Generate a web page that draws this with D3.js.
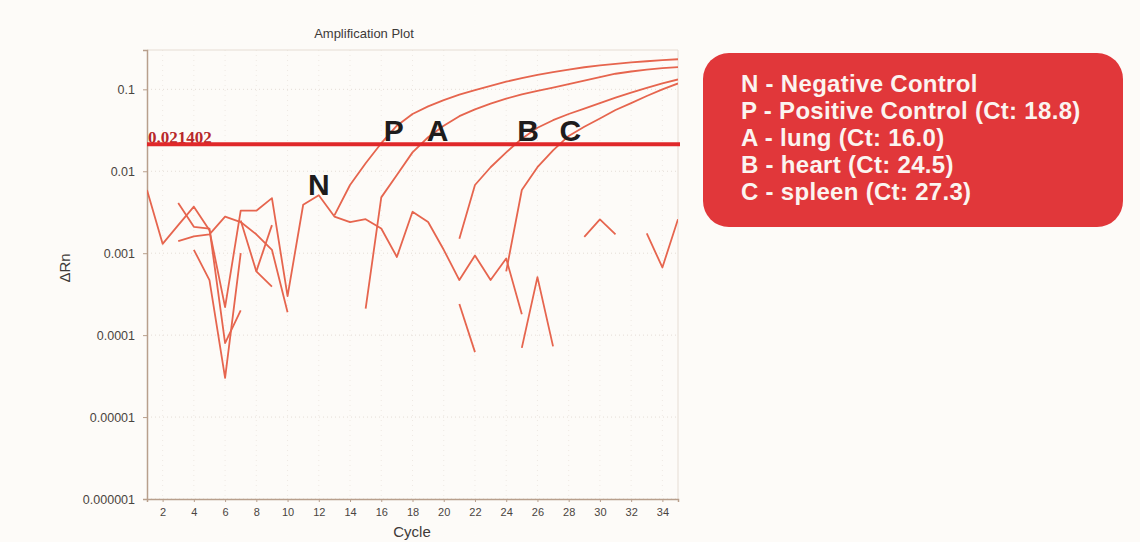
<!DOCTYPE html>
<html><head><meta charset="utf-8">
<script src="https://cdn.jsdelivr.net/npm/d3@7"></script>
<style>
html,body{margin:0;padding:0;background:#fdfbf8;}
svg{display:block;}
</style></head>
<body>
<svg id="chart" width="1140" height="542"></svg>
<script>
// ---------- data ----------
const cycles = [1,2,3,4,5,6,7,8,9,10,11,12,13,14,15,16,17,18,19,20,21,22,23,24,25,26,27,28,29,30,31,32,33,34,35];
const xTicks = [2,4,6,8,10,12,14,16,18,20,22,24,26,28,30,32,34];
const yTicks = [0.1,0.01,0.001,0.0001,0.00001,0.000001];
const yTickLabels = ["0.1","0.01","0.001","0.0001","0.00001","0.000001"];
const threshold = 0.021402;
const thresholdLabel = "0.021402";

const curveP = [null,null,null,null,null,null,null,null,null,null,null,null,0.0029,0.0068,0.0125,0.022,0.036,0.050,0.062,0.074,0.086,0.098,0.110,0.124,0.137,0.150,0.162,0.174,0.186,0.196,0.205,0.213,0.220,0.227,0.233];
const curveA = [null,null,null,null,null,null,null,null,null,null,null,null,null,null,0.00021,0.0048,0.0090,0.017,0.026,0.036,0.047,0.057,0.067,0.077,0.087,0.096,0.105,0.116,0.128,0.141,0.155,0.165,0.174,0.181,0.187];
const curveB = [null,null,null,null,null,null,null,null,null,null,null,null,null,null,null,null,null,null,null,null,0.0015,0.0068,0.0112,0.017,0.025,0.034,0.042,0.050,0.058,0.068,0.079,0.091,0.104,0.118,0.132];
const curveC = [null,null,null,null,null,null,null,null,null,null,null,null,null,null,null,null,null,null,null,null,null,null,null,0.0006,0.0059,0.0112,0.018,0.027,0.035,0.044,0.056,0.068,0.083,0.100,0.118];
const noise1 = [0.0059,0.0013,0.0022,0.0037,0.0019,0.00022,0.0033,0.0033,0.0047,0.0003,0.0039,0.0051,0.0028,0.0024,0.0026,0.0020,0.0009,0.0032,0.0024,0.0011,0.00047,0.00094,0.00047,0.00086,0.00018,null,null,null,0.00158,0.00258,0.0017,null,0.00174,0.00067,0.0026];
const noise2 = [null,null,0.0041,0.0021,0.0020,0.00008,0.0002,null,null,null,null,null,null,null,null,null,null,null,null,null,null,null,null,null,null,null,null,null,null,null,null,null,null,null,null];
const noise3 = [null,null,0.0014,0.0016,0.0017,0.0028,0.0024,0.0017,0.0011,0.00019,null,null,null,null,null,null,null,null,null,null,null,null,null,null,null,null,null,null,null,null,null,null,null,null,null];
const noise4 = [null,null,null,0.0011,0.00047,0.00003,0.0010,null,null,null,null,null,null,null,null,null,null,null,null,null,null,null,null,null,null,null,null,null,null,null,null,null,null,null,null];
const noise5 = [null,null,null,null,null,null,0.0025,0.0006,0.00039,null,null,null,null,null,null,null,null,null,null,null,null,null,null,null,null,null,null,null,null,null,null,null,null,null,null];
const noise6 = [null,null,null,null,null,null,null,0.0006,0.0022,null,null,null,null,null,null,null,null,null,null,null,null,null,null,null,null,null,null,null,null,null,null,null,null,null,null];
const noise7 = [null,null,null,null,null,null,null,null,null,null,null,null,null,null,null,null,null,null,null,null,0.00024,0.000062,null,null,null,null,null,null,null,null,null,null,null,null,null];
const noise8 = [null,null,null,null,null,null,null,null,null,null,null,null,null,null,null,null,null,null,null,null,null,null,null,null,0.00007,0.00051,0.000073,null,null,null,null,null,null,null,null];

const curveLabels = [
  {t:"N", c:12.0, v:0.0052},
  {t:"P", c:16.8, v:0.0232},
  {t:"A", c:19.6, v:0.0232},
  {t:"B", c:25.4, v:0.0232},
  {t:"C", c:28.1, v:0.0232}
];
const legendLines = [
  "N - Negative Control",
  "P - Positive Control (Ct: 18.8)",
  "A - lung (Ct: 16.0)",
  "B - heart (Ct: 24.5)",
  "C - spleen (Ct: 27.3)"
];

// ---------- layout ----------
const L=147, R=678, T=50, B=499;
const svg = d3.select("#chart");
const x = d3.scaleLinear().domain([1,35]).range([L,R]);
const y = d3.scaleLog().domain([1e-6, Math.pow(10,-0.52)]).range([B,T]);

// grid
const g = svg.append("g");
g.selectAll(".hg").data(yTicks).join("line")
  .attr("x1",L).attr("x2",R).attr("y1",d=>y(d)).attr("y2",d=>y(d))
  .attr("stroke","#e4ddd6").attr("stroke-dasharray","1,3");
g.selectAll(".vg").data(xTicks).join("line")
  .attr("y1",T).attr("y2",B).attr("x1",d=>x(d)).attr("x2",d=>x(d))
  .attr("stroke","#efe9e3").attr("stroke-dasharray","1,4");

// frame top/right
svg.append("line").attr("x1",L).attr("x2",R).attr("y1",T).attr("y2",T).attr("stroke","#e6ddd4");
svg.append("line").attr("x1",R).attr("x2",R).attr("y1",T).attr("y2",B).attr("stroke","#e6ddd4");

// axes
const axisColor = "#b89f8c";
const yAxis = svg.append("g").attr("transform",`translate(${L},0)`)
  .call(d3.axisLeft(y).tickValues(yTicks).tickFormat((d,i)=>yTickLabels[i]).tickSize(4).tickPadding(8));
const xAxis = svg.append("g").attr("transform",`translate(0,${B})`)
  .call(d3.axisBottom(x).tickValues(xTicks).tickSize(3).tickPadding(6));
[yAxis,xAxis].forEach(a=>{
  a.select(".domain").attr("stroke",axisColor).attr("stroke-width",1.5);
  a.selectAll(".tick line").attr("stroke",axisColor);
  a.selectAll("text").attr("fill","#4a4440").attr("font-family","Liberation Sans, Arial, sans-serif");
});
yAxis.selectAll("text").attr("font-size","12.5px");
xAxis.selectAll("text").attr("font-size","11px");

// clip
svg.append("clipPath").attr("id","clip").append("rect").attr("x",L).attr("y",T).attr("width",R-L).attr("height",B-T);

const line = d3.line().defined(d=>d.v!=null).x(d=>x(d.c)).y(d=>y(d.v));
const allSeries = [noise1,noise2,noise3,noise4,noise5,noise6,noise7,noise8,curveC,curveB,curveA,curveP];
const lg = svg.append("g").attr("clip-path","url(#clip)");
lg.selectAll("path").data(allSeries).join("path")
  .attr("d",s=>line(cycles.map((c,i)=>({c:c,v:s[i]}))))
  .attr("fill","none").attr("stroke","#e6654e").attr("stroke-width",1.8)
  .attr("stroke-linejoin","round");

// threshold
svg.append("text").attr("x",L+1).attr("y",y(threshold)-1)
  .attr("font-family","Liberation Serif, serif").attr("font-weight","bold")
  .attr("font-size","17px").attr("fill","#b8282a").text(thresholdLabel);
svg.append("line").attr("x1",L).attr("x2",R+2).attr("y1",y(threshold)).attr("y2",y(threshold))
  .attr("stroke","#e0282a").attr("stroke-width",4);

// curve letters
svg.selectAll(".cl").data(curveLabels).join("text")
  .attr("x",d=>x(d.c)).attr("y",d=>y(d.v))
  .attr("text-anchor","middle").attr("font-family","Liberation Sans, Arial, sans-serif")
  .attr("font-weight","bold").attr("font-size","30px").attr("fill","#1e1c1c").text(d=>d.t);

// titles
svg.append("text").attr("x",364).attr("y",38).attr("text-anchor","middle")
  .attr("font-family","Liberation Sans, Arial, sans-serif").attr("font-size","13px").attr("fill","#3e3a38")
  .text("Amplification Plot");
svg.append("text").attr("x",412).attr("y",537).attr("text-anchor","middle")
  .attr("font-family","Liberation Sans, Arial, sans-serif").attr("font-size","15px").attr("fill","#3e3a38")
  .text("Cycle");
svg.append("text").attr("transform","translate(70,268) rotate(-90)").attr("text-anchor","middle")
  .attr("font-family","Liberation Sans, Arial, sans-serif").attr("font-size","15px").attr("fill","#3e3a38")
  .text("ΔRn");

// legend box
svg.append("rect").attr("x",703).attr("y",53).attr("width",420).attr("height",174).attr("rx",26)
  .attr("fill","#e1373a");
svg.selectAll(".lt").data(legendLines).join("text")
  .attr("x",741).attr("y",(d,i)=>92+i*27)
  .attr("font-family","Liberation Sans, Arial, sans-serif").attr("font-weight","bold")
  .attr("font-size","24px").attr("letter-spacing","0.3px").attr("fill","#fbf4f0").text(d=>d);
</script>
</body></html>
